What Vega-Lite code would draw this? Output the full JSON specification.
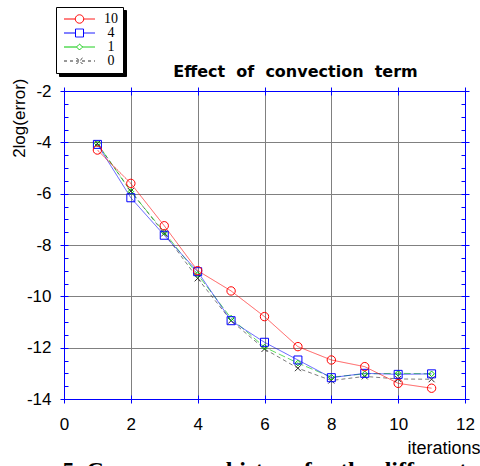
{
  "$schema": "https://vega.github.io/schema/vega-lite/v6.json",
  "width": 401,
  "height": 308,
  "autosize": {"type": "none"},
  "padding": {"left": 64, "top": 91, "right": 15, "bottom": 67},
  "background": "white",
  "config": {
    "view": {"stroke": null},
    "font": "Liberation Sans",
    "axis": {
      "domainColor": "#0000ff", "tickColor": "#0000ff", "labelColor": "#000000", "titleColor": "#000000",
      "labelFont": "Liberation Sans", "titleFont": "Liberation Sans", "titleFontWeight": "normal",
      "gridColor": "#808080", "gridOpacity": 1, "gridWidth": 1, "domainWidth": 1, "tickWidth": 1,
      "labelFlush": false, "labelOverlap": false
    }
  },
  "data": {
    "values": [
      {"series": "0", "x": 1, "y": -4.05}, {"series": "0", "x": 2, "y": -5.9}, {"series": "0", "x": 3, "y": -7.55},
      {"series": "0", "x": 4, "y": -9.3}, {"series": "0", "x": 5, "y": -10.95}, {"series": "0", "x": 6, "y": -12.05},
      {"series": "0", "x": 7, "y": -12.8}, {"series": "0", "x": 8, "y": -13.28}, {"series": "0", "x": 9, "y": -13.12},
      {"series": "0", "x": 10, "y": -13.22}, {"series": "0", "x": 11, "y": -13.23},
      {"series": "1", "x": 1, "y": -4.05}, {"series": "1", "x": 2, "y": -5.92}, {"series": "1", "x": 3, "y": -7.5},
      {"series": "1", "x": 4, "y": -9.15}, {"series": "1", "x": 5, "y": -10.85}, {"series": "1", "x": 6, "y": -11.98},
      {"series": "1", "x": 7, "y": -12.6}, {"series": "1", "x": 8, "y": -13.15}, {"series": "1", "x": 9, "y": -13.02},
      {"series": "1", "x": 10, "y": -13.0}, {"series": "1", "x": 11, "y": -13.02},
      {"series": "4", "x": 1, "y": -4.08}, {"series": "4", "x": 2, "y": -6.16}, {"series": "4", "x": 3, "y": -7.62},
      {"series": "4", "x": 4, "y": -9.04}, {"series": "4", "x": 5, "y": -10.95}, {"series": "4", "x": 6, "y": -11.79},
      {"series": "4", "x": 7, "y": -12.48}, {"series": "4", "x": 8, "y": -13.17}, {"series": "4", "x": 9, "y": -13.0},
      {"series": "4", "x": 10, "y": -13.04}, {"series": "4", "x": 11, "y": -13.02},
      {"series": "10", "x": 1, "y": -4.3}, {"series": "10", "x": 2, "y": -5.6}, {"series": "10", "x": 3, "y": -7.25},
      {"series": "10", "x": 4, "y": -9.0}, {"series": "10", "x": 5, "y": -9.79}, {"series": "10", "x": 6, "y": -10.79},
      {"series": "10", "x": 7, "y": -11.96}, {"series": "10", "x": 8, "y": -12.48}, {"series": "10", "x": 9, "y": -12.74},
      {"series": "10", "x": 10, "y": -13.39}, {"series": "10", "x": 11, "y": -13.58}
    ]
  },
  "resolve": {
    "axis": {"x": "independent", "y": "independent"},
    "scale": {"shape": "independent", "strokeDash": "independent", "stroke": "independent"}
  },
  "layer": [
    {
      "mark": {"type": "line", "strokeWidth": 0.9, "opacity": 0.7},
      "encoding": {
        "x": {
          "field": "x", "type": "quantitative",
          "scale": {"domain": [0, 12], "nice": false, "zero": false},
          "axis": {
            "orient": "bottom", "values": [0, 2, 4, 6, 8, 10, 12], "grid": true, "tickSize": 4,
            "labelFontSize": 17, "labelPadding": 13,
            "title": "iterations", "titleFontSize": 18, "titleAlign": "right", "titleBaseline": "alphabetic",
            "titleX": 416, "titleY": 54
          }
        },
        "y": {
          "field": "y", "type": "quantitative",
          "scale": {"domain": [-14, -2], "nice": false, "zero": false},
          "axis": {
            "orient": "left", "values": [-14, -12, -10, -8, -6, -4, -2], "grid": true, "tickSize": 4,
            "labelFontSize": 17, "labelPadding": 9, "labelExpr": "'' + datum.value",
            "title": "2log(error)", "titleFontSize": 17, "titleAngle": -90, "titleAlign": "right",
            "titleBaseline": "alphabetic", "titleX": -40, "titleY": -13
          }
        },
        "color": {
          "field": "series", "type": "nominal",
          "scale": {"range": ["#303030", "#00c800", "#ff0000", "#0000ff"]},
          "legend": null
        },
        "strokeDash": {
          "field": "series", "type": "nominal",
          "scale": {"range": [[4, 3], [7, 3], [1, 0], [1, 0]]},
          "legend": null
        }
      }
    },
    {
      "mark": {"type": "point", "filled": false, "size": 64, "strokeWidth": 1, "opacity": 1},
      "encoding": {
        "x": {
          "field": "x", "type": "quantitative",
          "axis": {"orient": "top", "values": [0, 2, 4, 6, 8, 10, 12], "grid": false, "labels": false, "tickSize": 4, "title": null}
        },
        "y": {
          "field": "y", "type": "quantitative",
          "axis": {"orient": "right", "values": [-14, -12, -10, -8, -6, -4, -2], "grid": false, "labels": false, "tickSize": 4, "title": null}
        },
        "color": {"field": "series", "type": "nominal", "legend": null},
        "shape": {
          "field": "series", "type": "nominal",
          "scale": {
            "range": [
              "M-0.75,-0.75L0.75,0.75M0.75,-0.75L-0.75,0.75",
              "M0,-0.7L0.7,0L0,0.7L-0.7,0Z",
              "M1.05,0A1.05,1.05,0,1,1,-1.05,0A1.05,1.05,0,1,1,1.05,0Z",
              "M-1,-1H1V1H-1Z"
            ]
          },
          "legend": null
        }
      }
    },
    {
      "mark": {"type": "point", "opacity": 0, "filled": false},
      "encoding": {
        "x": {
          "field": "x", "type": "quantitative",
          "axis": {
            "orient": "bottom", "values": [0, 2, 4, 6, 8, 10, 12], "grid": false, "labels": false, "domain": false, "tickSize": -4,
            "title": "5. Convergence history for the different", "titleFont": "Liberation Serif", "titleFontWeight": "bold",
            "titleFontSize": 24, "titleAlign": "left", "titleBaseline": "alphabetic", "titleX": -2, "titleY": 78
          }
        },
        "y": {
          "field": "y", "type": "quantitative",
          "axis": {
            "orient": "left", "grid": false, "labels": false, "domain": false, "tickSize": -4, "title": null,
            "values": [-14, -13.5, -13, -12.5, -12, -11.5, -11, -10.5, -10, -9.5, -9, -8.5, -8, -7.5, -7, -6.5, -6, -5.5, -5, -4.5, -4, -3.5, -3, -2.5, -2]
          }
        },
        "stroke": {
          "field": "series", "type": "nominal",
          "scale": {"domain": ["10", "4", "1", "0"], "range": ["#ff0000", "#0000ff", "#00c800", "#303030"]},
          "legend": {
            "orient": "none", "legendX": -8, "legendY": -84, "title": null, "zindex": 2,
            "padding": 5, "strokeColor": "#000000", "fillColor": "#ffffff",
            "symbolSize": 64, "symbolStrokeWidth": 1, "symbolOpacity": 1, "symbolFillColor": "transparent",
            "labelFont": "Liberation Serif", "labelFontSize": 14, "labelAlign": "center", "labelOffset": 36,
            "labelExpr": "'    ' + datum.label + '    '",
            "rowPadding": 0,
            "encode": {
              "labels": {
                "update": {
                  "fill": {"signal": "datum.value === '10' ? '#ff0000' : datum.value === '4' ? '#0000ff' : datum.value === '1' ? '#00e000' : '#303030'"}
                }
              }
            }
          }
        },
        "shape": {
          "field": "series", "type": "nominal",
          "scale": {
            "domain": ["10", "4", "1", "0"],
            "range": [
              "M-1,0H1.825M3.925,0H6.75M3.925,0A1.05,1.05,0,1,1,1.825,0A1.05,1.05,0,1,1,3.925,0Z",
              "M-1,0H1.875M3.875,0H6.75M1.875,-1H3.875V1H1.875Z",
              "M-1,0H2.125M3.625,0H6.75M2.875,-0.75L3.625,0L2.875,0.75L2.125,0Z",
              "M-1,0H6.75M2.125,-0.75L3.625,0.75M3.625,-0.75L2.125,0.75"
            ]
          }
        },
        "strokeDash": {
          "field": "series", "type": "nominal",
          "scale": {"domain": ["10", "4", "1", "0"], "range": [[1, 0], [1, 0], [1, 0], [3, 3]]}
        }
      }
    },
    {
      "mark": {"type": "point", "opacity": 0},
      "encoding": {
        "x": {
          "field": "x", "type": "quantitative",
          "axis": {
            "orient": "top", "values": [0, 2, 4, 6, 8, 10, 12], "grid": false, "labels": false, "domain": false, "tickSize": -4,
            "title": "Effect\u00a0\u00a0of\u00a0\u00a0convection\u00a0\u00a0term", "titleFont": "DejaVu Sans", "titleFontWeight": "bold",
            "titleFontSize": 16, "titleAlign": "center", "titleBaseline": "alphabetic", "titleX": 231, "titleY": -15
          }
        },
        "y": {
          "field": "y", "type": "quantitative",
          "axis": {
            "orient": "right", "grid": false, "labels": false, "domain": false, "tickSize": -4, "title": null,
            "values": [-14, -13.5, -13, -12.5, -12, -11.5, -11, -10.5, -10, -9.5, -9, -8.5, -8, -7.5, -7, -6.5, -6, -5.5, -5, -4.5, -4, -3.5, -3, -2.5, -2]
          }
        },
        "size": {
          "field": "series", "type": "nominal",
          "scale": {"domain": ["0", "1", "4", "10"], "range": [64, 64]},
          "legend": {
            "orient": "none", "legendX": -5, "legendY": -81, "title": null, "zindex": 1,
            "padding": 5, "strokeColor": "#000000", "fillColor": "#000000",
            "symbolSize": 64, "symbolStrokeWidth": 1,
            "labelFont": "Liberation Serif", "labelFontSize": 14, "labelAlign": "center", "labelOffset": 36,
            "labelExpr": "'    ' + datum.label + '    '",
            "rowPadding": 0,
            "encode": {
              "symbols": {
                "update": {
                  "shape": {"value": "M-1,-1H6.75V1H-1Z"},
                  "size": {"value": 64},
                  "opacity": {"value": 0}
                }
              },
              "labels": {"update": {"opacity": {"value": 0}}}
            }
          }
        }
      }
    }
  ]
}
